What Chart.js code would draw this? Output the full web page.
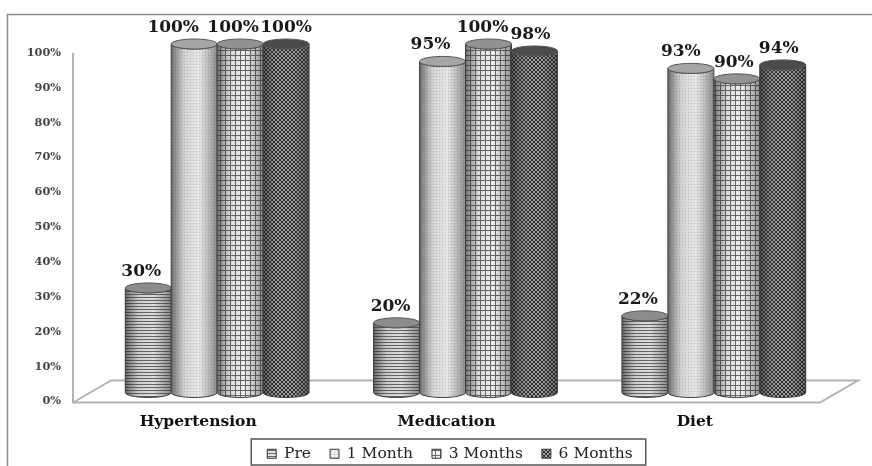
<!DOCTYPE html>
<html>
<head>
<meta charset="utf-8">
<title>Adherence</title>
<script src="https://cdn.jsdelivr.net/npm/chart.js@4"></script>
<style>
html, body { margin: 0; padding: 0; background: #fff; }
#wrap { width: 872px; height: 466px; }
</style>
</head>
<body>
<div id="wrap"><canvas id="myChart" width="872" height="466"></canvas></div>
<script>
const categories = ['Hypertension', 'Medication', 'Diet'];
const pre = [30, 20, 22];
const oneMonth = [100, 95, 93];
const threeMonths = [100, 100, 90];
const sixMonths = [100, 98, 94];

const FONT = '"DejaVu Serif", serif';
const RISE = 9;   // cylinders stand a little behind the axis baseline
const RY = 5;     // ellipse height of the cylinder caps

// small repeating fills
function tile(size, paint) {
    const c = document.createElement('canvas');
    c.width = c.height = size;
    paint(c.getContext('2d'), size);
    return document.createElement('canvas').getContext('2d').createPattern(c, 'repeat');
}

const stripes = tile(3, function (g, s) {
    g.fillStyle = '#e2e2e2'; g.fillRect(0, 0, s, s);
    g.fillStyle = '#666'; g.fillRect(0, 0, s, 1);
});
const dots = tile(3, function (g, s) {
    g.fillStyle = '#ececec'; g.fillRect(0, 0, s, s);
    g.fillStyle = '#c4c4c4'; g.fillRect(1, 1, 1, 1);
});
const grid = tile(5, function (g, s) {
    g.fillStyle = '#f4f4f4'; g.fillRect(0, 0, s, s);
    g.fillStyle = '#666'; g.fillRect(0, 0, s, 1); g.fillRect(0, 0, 1, s);
});
const weave = tile(4, function (g, s) {
    g.fillStyle = '#a8a8a8'; g.fillRect(0, 0, s, s);
    g.strokeStyle = '#2a2a2a'; g.lineWidth = 1;
    g.beginPath();
    g.moveTo(-1, -1); g.lineTo(s + 1, s + 1);
    g.moveTo(-1, s + 1); g.lineTo(s + 1, -1);
    g.stroke();
});

const capColors = ['#8c8c8c', '#a6a6a6', '#929292', '#4b4b4b'];

// horizontal nudge of each value label from the centre of its bar
const labelShift = [[-7, -6, -7], [-21, -12, -10], [-7, -6, -3], [0, -4, -4]];

function cylinder(ctx, el, fill, cap) {
    const cx = el.x, rx = el.width / 2;
    const top = el.y - RISE, bottom = el.base - RISE;

    ctx.beginPath();
    ctx.moveTo(cx - rx, top);
    ctx.lineTo(cx - rx, bottom);
    ctx.ellipse(cx, bottom, rx, RY, 0, Math.PI, 0, true);
    ctx.lineTo(cx + rx, top);
    ctx.ellipse(cx, top, rx, RY, 0, 0, Math.PI, false);
    ctx.closePath();
    ctx.fillStyle = fill;
    ctx.fill();

    // round shading over the pattern
    const shade = ctx.createLinearGradient(cx - rx, 0, cx + rx, 0);
    shade.addColorStop(0, 'rgba(40,40,40,0.65)');
    shade.addColorStop(0.3, 'rgba(80,80,80,0.15)');
    shade.addColorStop(0.6, 'rgba(80,80,80,0.04)');
    shade.addColorStop(1, 'rgba(40,40,40,0.5)');
    ctx.fillStyle = shade;
    ctx.fill();
    ctx.strokeStyle = '#3c3c3c';
    ctx.lineWidth = 1;
    ctx.stroke();

    ctx.beginPath();
    ctx.ellipse(cx, top, rx, RY, 0, 0, Math.PI * 2);
    ctx.fillStyle = cap;
    ctx.fill();
    ctx.strokeStyle = '#555';
    ctx.stroke();
}

const cylinders = {
    id: 'cylinders',
    afterLayout: function (chart) {
        // legend sits right of the canvas centre, under the x labels
        const legend = chart.legend;
        const dx = 31;
        const dy = 427 - legend.top;
        legend.left += dx;
        legend.right += dx;
        legend.top += dy;
        legend.legendHitBoxes.forEach(function (box) {
            box.left += dx;
            box.top += dy;
        });
    },
    beforeDatasetsDraw: function (chart) {
        const ctx = chart.ctx;
        const area = chart.chartArea;
        const y0 = chart.scales.y.getPixelForValue(0);
        const y100 = chart.scales.y.getPixelForValue(100);

        ctx.save();
        // value axis line and floor
        ctx.strokeStyle = '#b4b4b4';
        ctx.lineWidth = 2;
        ctx.beginPath();
        ctx.moveTo(area.left - 20, y100);
        ctx.lineTo(area.left - 20, y0 + 1);
        ctx.lineTo(area.right - 18, y0 + 1);
        ctx.lineTo(area.right + 20, y0 - 21);
        ctx.lineTo(area.left + 18, y0 - 21);
        ctx.lineTo(area.left - 20, y0 + 1);
        ctx.stroke();

        chart.data.datasets.forEach(function (ds, i) {
            const meta = chart.getDatasetMeta(i);
            meta.data.forEach(function (el) {
                cylinder(ctx, el, ds.backgroundColor, capColors[i]);
            });
        });

        // value labels
        ctx.fillStyle = '#1a1a1a';
        ctx.font = 'bold 17px ' + FONT;
        ctx.textAlign = 'center';
        ctx.textBaseline = 'alphabetic';
        chart.data.datasets.forEach(function (ds, i) {
            chart.getDatasetMeta(i).data.forEach(function (el, j) {
                ctx.fillText(ds.data[j] + '%', el.x + labelShift[i][j], el.y - RISE - 12);
            });
        });
        ctx.restore();
        return false;
    },
    afterDraw: function (chart) {
        const ctx = chart.ctx;
        const legend = chart.legend;
        const boxes = legend.legendHitBoxes;
        const first = boxes[0], last = boxes[boxes.length - 1];
        ctx.save();
        // picture frame
        ctx.strokeStyle = '#8a8a8a';
        ctx.lineWidth = 1.5;
        ctx.beginPath();
        ctx.moveTo(7.5, chart.height);
        ctx.lineTo(7.5, 14.5);
        ctx.lineTo(chart.width, 14.5);
        ctx.stroke();
        // legend box
        ctx.strokeStyle = '#555';
        ctx.lineWidth = 1.5;
        ctx.strokeRect(first.left - 16, legend.top + 12, last.left + last.width - first.left + 29, 26);
        ctx.restore();
    }
};

var ctx = document.getElementById('myChart').getContext('2d');
var chart = new Chart(ctx, {
    type: 'bar',
    data: {
        labels: categories,
        datasets: [
            { label: 'Pre', data: pre, backgroundColor: stripes, borderColor: '#333', borderWidth: 1 },
            { label: '1 Month', data: oneMonth, backgroundColor: dots, borderColor: '#333', borderWidth: 1 },
            { label: '3 Months', data: threeMonths, backgroundColor: grid, borderColor: '#333', borderWidth: 1 },
            { label: '6 Months', data: sixMonths, backgroundColor: weave, borderColor: '#333', borderWidth: 1 }
        ]
    },
    plugins: [cylinders],
    options: {
        responsive: false,
        animation: false,
        layout: { padding: { left: 0, right: 34, top: 53, bottom: -16 } },
        datasets: { bar: { barPercentage: 1, categoryPercentage: 0.74 } },
        plugins: {
            tooltip: { enabled: false },
            legend: {
                position: 'bottom',
                labels: {
                    boxWidth: 9,
                    boxHeight: 9,
                    padding: 19,
                    color: '#222',
                    font: { family: FONT, size: 15.5 }
                }
            }
        },
        scales: {
            x: {
                afterFit: function (s) { s.height = 36; },
                grid: { display: false },
                border: { display: false },
                ticks: {
                    labelOffset: -19,
                    padding: 3,
                    color: '#111',
                    maxRotation: 0,
                    font: { family: FONT, size: 15.5, weight: 'bold' }
                }
            },
            y: {
                min: 0,
                max: 100,
                afterFit: function (s) { s.width = 93; },
                grid: { display: false },
                border: { display: false },
                ticks: {
                    stepSize: 10,
                    padding: 24,
                    color: '#444',
                    font: { family: FONT, size: 11.3, weight: 'bold' },
                    callback: function (v) { return v + '%'; }
                }
            }
        }
    }
});
</script>
</body>
</html>
